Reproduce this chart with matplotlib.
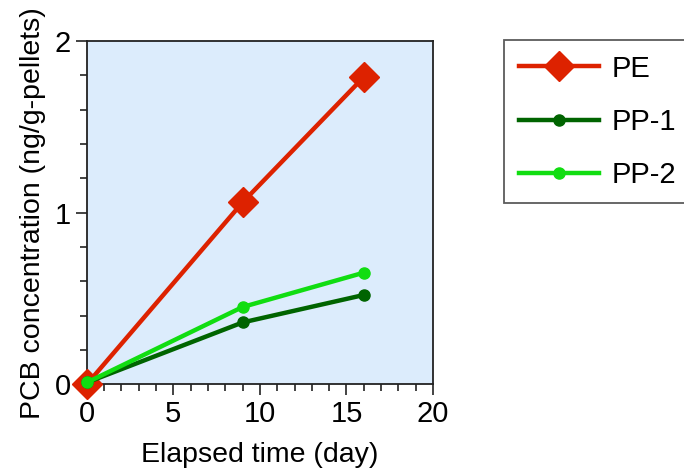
import matplotlib
matplotlib.use('Agg')
from matplotlib import pyplot as plt
from matplotlib.ticker import MultipleLocator

plt.rcParams['font.family'] = ['Liberation Sans', 'DejaVu Sans']

# data
days = [0, 9, 16]
pe = [0.0, 1.06, 1.79]
pp1 = [0.01, 0.36, 0.52]
pp2 = [0.01, 0.45, 0.65]

fig = plt.figure(figsize=(6.84, 4.72), dpi=100)
ax = fig.add_axes([0.127, 0.186, 0.506, 0.727])
ax.set_facecolor('#dcecfc')

ax.plot(days, pe, color='#dd2200', lw=3.2, marker='D', ms=15, label='PE', clip_on=False, zorder=3)
ax.plot(days, pp1, color='#006400', lw=3.2, marker='o', ms=8, label='PP-1', clip_on=False, zorder=4)
ax.plot(days, pp2, color='#11dd11', lw=3.2, marker='o', ms=8, label='PP-2', clip_on=False, zorder=5)

ax.set_xlim(0, 20)
ax.set_ylim(0, 2)
ax.xaxis.set_major_locator(MultipleLocator(5))
ax.xaxis.set_minor_locator(MultipleLocator(1))
ax.yaxis.set_major_locator(MultipleLocator(1))
ax.yaxis.set_minor_locator(MultipleLocator(0.2))
ax.tick_params(which='both', direction='out', labelsize=21, width=1.2, color='#222222')
ax.tick_params(which='major', length=8)
ax.tick_params(which='minor', length=5)
for s in ax.spines.values():
    s.set_linewidth(1.3)
    s.set_color('#222222')

ax.set_xlabel('Elapsed time (day)', fontsize=20.5, labelpad=10)
ax.set_ylabel('PCB concentration (ng/g-pellets)', fontsize=20.5, labelpad=6)

leg = fig.legend(loc='upper left', bbox_to_anchor=(0.737, 0.915), fontsize=21,
                 frameon=True, fancybox=False, edgecolor='#333333',
                 handlelength=2.75, borderpad=0.5, labelspacing=0.86, handletextpad=0.45,
                 borderaxespad=0)
leg.get_frame().set_linewidth(1.3)

plt.savefig('out.png', dpi=100)
